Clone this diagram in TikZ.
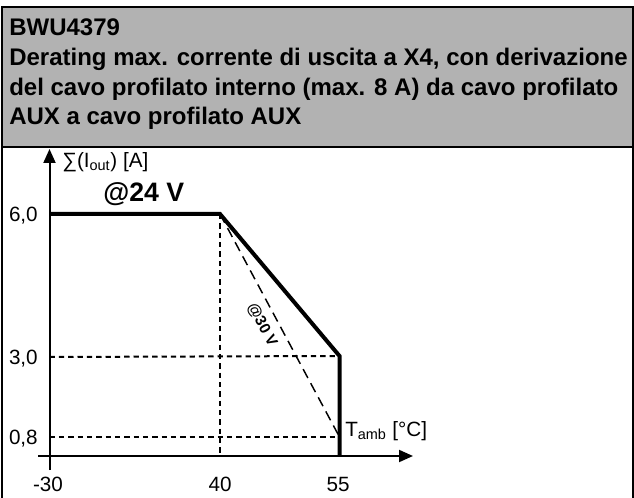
\documentclass[tikz,border=0pt]{standalone}
\usepackage{fontspec}
\setmainfont{Liberation Sans}
\usetikzlibrary{arrows.meta}
\tikzset{
  frame/.style={line width=1.5pt},
  axis/.style={line width=1.5pt,-{Triangle[length=10.5pt,width=9pt]}},
  curve/.style={line width=3pt,line join=miter},
  grid/.style={line width=1.5pt,dash pattern=on 4pt off 3pt},
  alt/.style={line width=1.1pt,dash pattern=on 7.5pt off 4.5pt},
  title/.style={anchor=base west,inner sep=0pt,font=\bfseries\fontsize{18}{22}\selectfont},
  tick/.style={inner sep=0pt,font=\fontsize{15.5}{18}\selectfont},
}
\begin{document}
\begin{tikzpicture}[x=0.75pt,y=-0.75pt]
  \useasboundingbox (0,0) rectangle (634,498);
  % header
  \fill[black!30] (2,7) rectangle (632.5,147);
  \draw[frame] (2,498) -- (2,7) -- (632.5,7) -- (632.5,498);
  \draw[frame] (2,147) -- (632.5,147);
  \draw
    (9,36) node[title] (t1){BWU4379}
    (9,65.7) node[title] (t2){Derating max. corrente di uscita a X4, con derivazione}
    (9,95.3) node[title] (t3){del cavo profilato interno (max. 8 A) da cavo profilato}
    (9,125) node[title] (t4){AUX a cavo profilato AUX};
  % graph points
  \coordinate (ymin) at (49.5,470);
  \coordinate (ymax) at (49.5,149);
  \coordinate (xmin) at (38,456);
  \coordinate (xmax) at (413,456);
  \coordinate (p6) at (49.5,214);
  \coordinate (p40) at (220,214);
  \coordinate (p55) at (339.5,356);
  \coordinate (p55a) at (339.5,456);
  \coordinate (p55b) at (339.5,437);
  \coordinate (q40) at (220,456);
  \coordinate (q3) at (49.5,357);
  \coordinate (q08) at (49.5,437);
  \begin{scope}[grid]
    \draw (p40) to (q40);
    \draw (q3) to (p55);
    \draw (q08) to (p55b);
  \end{scope}
  \draw[alt] (p40) to (p55b);
  \draw[curve] (p6) -- (p40) -- (p55) -- (p55a);
  \draw[axis] (ymin) to (ymax);
  \draw[axis] (xmin) to (xmax);
  % labels
  \draw
    (38,221.5) node[tick,anchor=base east] (l6){6,0}
    (38,364.5) node[tick,anchor=base east] (l3){3,0}
    (38,444) node[tick,anchor=base east] (l08){0,8}
    (48,491.5) node[tick,anchor=base] (lm30){-30}
    (220,491.5) node[tick,anchor=base] (l40){40}
    (338,491.5) node[tick,anchor=base] (l55){55}
    (62,168) node[tick,anchor=base west] (ly){∑(I\textsubscript{out}) [A]}
    (345,436) node[tick,anchor=base west] (lx){T\textsubscript{amb} [°C]}
    (103,202) node[anchor=base west,inner sep=0pt,font=\bfseries\fontsize{20}{24}\selectfont] (v24){@24 V}
    (262,325) node[rotate=-61.8,inner sep=0pt,font=\bfseries\fontsize{11.5}{14}\selectfont] (v30){@30 V};
\end{tikzpicture}
\end{document}
